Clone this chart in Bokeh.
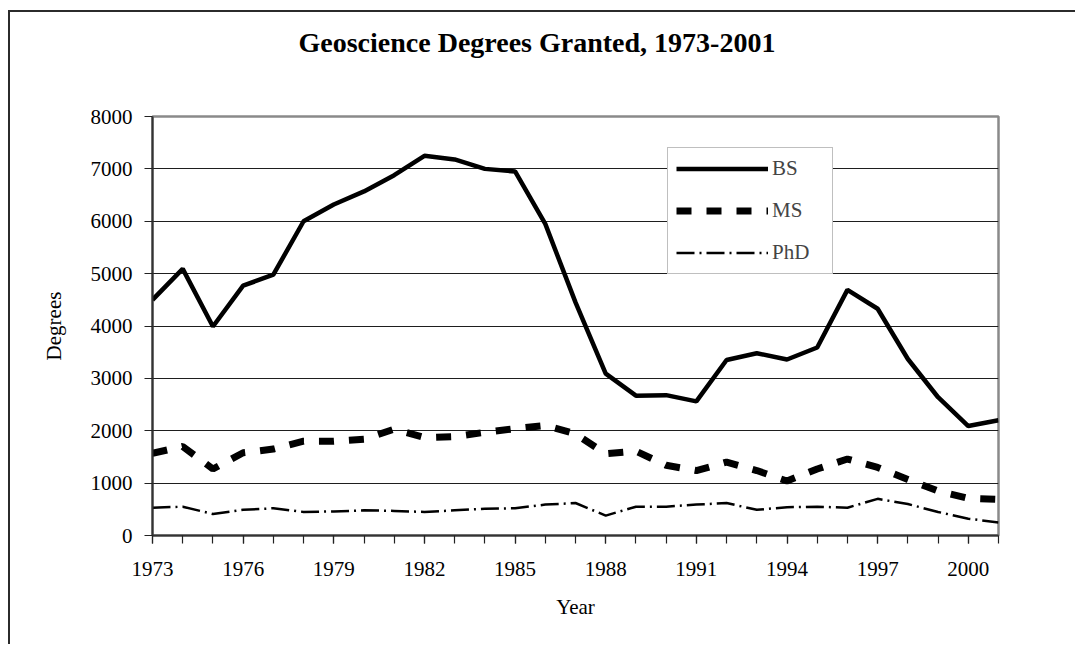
from bokeh.plotting import figure
from bokeh.models import Range1d, FixedTicker, Legend, LegendItem, Title
from bokeh.embed import file_html
from bokeh.resources import INLINE

# ---- data ----
years = list(range(1973, 2002))
bs = [4500, 5090, 3990, 4770, 4980, 6000, 6320, 6570, 6880, 7250,
      7180, 7000, 6950, 5950, 4450, 3090, 2670, 2680, 2560, 3350,
      3480, 3360, 3590, 4690, 4330, 3370, 2640, 2090, 2200]
ms = [1570, 1700, 1270, 1580, 1650, 1800, 1800, 1840, 2030, 1870,
      1890, 1970, 2040, 2100, 1940, 1560, 1610, 1340, 1240, 1400,
      1240, 1040, 1270, 1460, 1300, 1070, 850, 710, 690]
phd = [530, 550, 410, 490, 520, 450, 460, 480, 470, 450,
       480, 510, 520, 590, 620, 380, 550, 550, 590, 620,
       490, 540, 550, 530, 700, 600, 450, 320, 250]
x_tick_years = list(range(1973, 2002, 3))
y_ticks = list(range(0, 8001, 1000))
series_names = ["BS", "MS", "PhD"]
title_text = "Geoscience Degrees Granted, 1973-2001"
x_label = "Year"
y_label = "Degrees"

FONT = "Liberation Serif"

p = figure(width=1067, height=634, output_backend="svg", toolbar_location=None,
           x_range=Range1d(years[0], years[-1]), y_range=Range1d(y_ticks[0], y_ticks[-1]),
           min_border_left=142, min_border_right=79, min_border_top=104,
           min_border_bottom=111)
p.margin = (10, 0, 0, 8)
p.styles = {"border-left": "2px solid #2b2b2b", "border-top": "2px solid #2b2b2b"}

p.background_fill_color = "white"
p.border_fill_color = "white"
p.outline_line_color = "#8a8a8a"
p.outline_line_width = 2.5

# title: spacer next to the frame, real title above it
p.add_layout(Title(text=" ", text_font_size="1px", standoff=56), "above")
p.add_layout(Title(text=title_text, align="left", offset=146, standoff=0,
                   text_font=FONT, text_font_style="bold", text_font_size="28px",
                   text_color="black"), "above")

# grid
p.xgrid.visible = False
p.ygrid.ticker = FixedTicker(ticks=y_ticks)
p.ygrid.grid_line_color = "#1e1e1e"
p.ygrid.grid_line_width = 1

# axes
p.xaxis.ticker = FixedTicker(ticks=x_tick_years, minor_ticks=years)
p.yaxis.ticker = FixedTicker(ticks=y_ticks)
for ax in (p.xaxis, p.yaxis):
    ax.axis_line_color = "#333333"
    ax.axis_line_width = 2
    ax.major_tick_in = 0
    ax.major_tick_out = 8
    ax.major_tick_line_color = "#222222"
    ax.major_tick_line_width = 1.2
    ax.major_label_text_font = FONT
    ax.major_label_text_font_size = "21px"
    ax.major_label_text_color = "black"
    ax.axis_label_text_font = FONT
    ax.axis_label_text_font_size = "21px"
    ax.axis_label_text_font_style = "normal"
    ax.axis_label_text_color = "black"
p.xaxis.minor_tick_in = 0
p.xaxis.minor_tick_out = 8
p.xaxis.minor_tick_line_color = "#222222"
p.xaxis.minor_tick_line_width = 1.2
p.yaxis.minor_tick_line_color = None
p.xaxis.major_label_standoff = 18
p.yaxis.major_label_standoff = 12
p.xaxis.axis_label = x_label
p.yaxis.axis_label = y_label
p.xaxis.axis_label_standoff = 16
p.yaxis.axis_label_standoff = 22

# series
r_bs = p.line(years, bs, line_color="black", line_width=4.5)
r_ms = p.line(years, ms, line_color="black", line_width=7, line_dash="15 15")
r_phd = p.line(years, phd, line_color="black", line_width=2.5, line_dash="18 5 2 5")

legend = Legend(items=[LegendItem(label=series_names[0], renderers=[r_bs]),
                       LegendItem(label=series_names[1], renderers=[r_ms]),
                       LegendItem(label=series_names[2], renderers=[r_phd])],
                location=(515, 261), margin=0, padding=8, spacing=17,
                glyph_width=92, glyph_height=21, label_height=21, label_width=52,
                label_standoff=4, label_text_font=FONT, label_text_font_size="21px",
                border_line_color="#808080", border_line_width=1.5,
                background_fill_color="white", background_fill_alpha=1.0)
p.add_layout(legend)

open("out.html", "w").write(file_html(p, INLINE))
